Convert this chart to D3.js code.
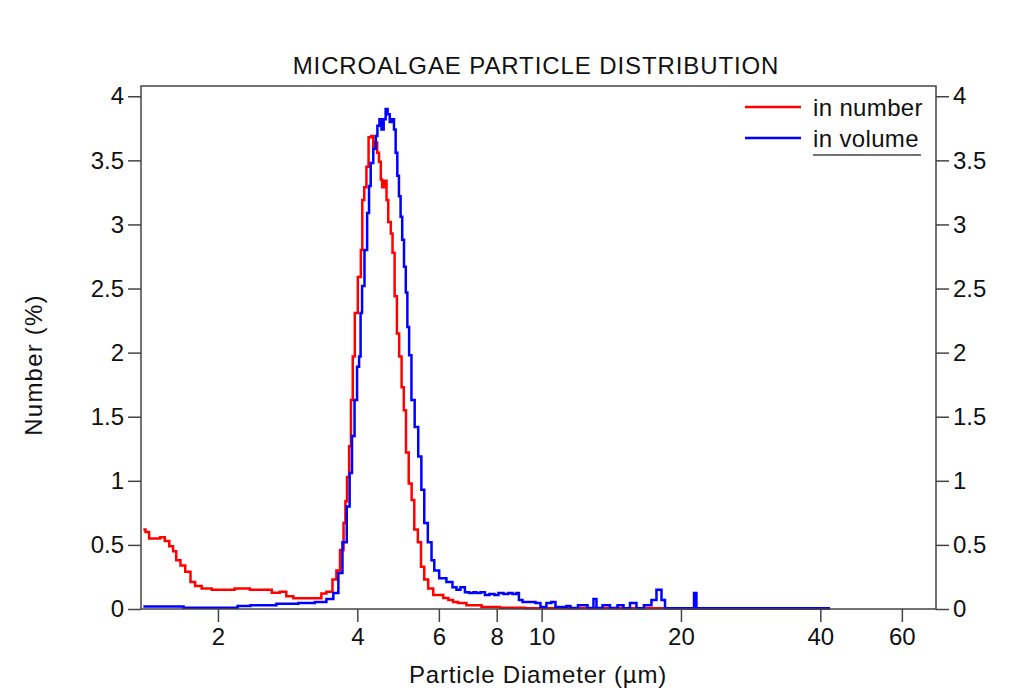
<!DOCTYPE html>
<html>
<head>
<meta charset="utf-8">
<script src="https://cdn.jsdelivr.net/npm/d3@7"></script>
<style>
  body { margin: 0; background: #fff; }
  text { font-family: "Liberation Sans", Arial, sans-serif; fill: #111; }
</style>
</head>
<body>
<svg id="chart" width="1024" height="690"></svg>
<script>
// particle size distribution
const numberDiam = [1.38, 1.41, 1.43, 1.48, 1.52, 1.55, 1.59, 1.61, 1.64, 1.68, 1.72, 1.77, 1.80, 1.89, 1.99, 2.09, 2.26, 2.43, 2.55, 2.68, 2.76, 2.86, 2.96, 3.32, 3.37, 3.49, 3.58, 3.63, 3.71, 3.76, 3.78, 3.82, 3.86, 3.89, 3.93, 3.97, 4.05, 4.09, 4.11, 4.17, 4.20, 4.26, 4.31, 4.35, 4.40, 4.43, 4.48, 4.51, 4.54, 4.62, 4.63, 4.70, 4.75, 4.78, 4.85, 4.89, 4.96, 5.01, 5.07, 5.12, 5.21, 5.27, 5.35, 5.46, 5.52, 5.64, 5.74, 5.93, 6.03, 6.24, 6.34, 6.54, 6.66, 7.11, 7.74, 8.54, 9.92, 41.96];
const numberPct = [0.62, 0.60, 0.55, 0.55, 0.56, 0.53, 0.49, 0.45, 0.38, 0.34, 0.29, 0.21, 0.18, 0.16, 0.15, 0.15, 0.16, 0.15, 0.15, 0.127, 0.135, 0.10, 0.084, 0.084, 0.12, 0.135, 0.23, 0.30, 0.46, 0.67, 0.84, 1.03, 1.27, 1.63, 1.97, 2.31, 2.59, 2.80, 3.19, 3.29, 3.45, 3.68, 3.69, 3.59, 3.64, 3.56, 3.49, 3.35, 3.29, 3.34, 3.19, 3.02, 2.93, 2.78, 2.44, 2.15, 1.97, 1.73, 1.55, 1.22, 0.98, 0.85, 0.62, 0.52, 0.33, 0.23, 0.16, 0.11, 0.11, 0.086, 0.07, 0.055, 0.047, 0.03, 0.016, 0.01, 0.006, 0.004];

const volumeDiam = [1.38, 1.68, 1.69, 2.20, 2.21, 2.50, 2.86, 3.11, 3.37, 3.49, 3.61, 3.67, 3.76, 3.83, 3.87, 3.92, 3.97, 4.02, 4.05, 4.08, 4.11, 4.18, 4.22, 4.26, 4.29, 4.37, 4.40, 4.44, 4.49, 4.53, 4.59, 4.62, 4.68, 4.72, 4.78, 4.82, 4.86, 4.90, 4.94, 4.98, 5.02, 5.07, 5.11, 5.15, 5.20, 5.27, 5.37, 5.46, 5.54, 5.62, 5.74, 5.83, 5.90, 6.12, 6.34, 6.50, 6.60, 6.76, 6.90, 7.07, 7.18, 7.29, 7.47, 7.62, 7.81, 8.01, 8.13, 8.42, 8.54, 8.76, 8.89, 8.98, 9.21, 9.58, 9.82, 10.07, 10.42, 10.58, 10.85, 11.23, 11.40, 11.69, 12.29, 12.85, 13.04, 13.24, 13.84, 14.26, 14.92, 15.14, 15.91, 16.15, 17.14, 17.40, 18.02, 18.29, 18.66, 21.25, 21.44, 21.76, 41.96];
const volumePct = [0.02, 0.02, 0.01, 0.01, 0.023, 0.03, 0.04, 0.047, 0.055, 0.078, 0.125, 0.28, 0.52, 0.80, 1.06, 1.35, 1.63, 1.89, 1.97, 2.31, 2.52, 2.80, 3.09, 3.30, 3.48, 3.59, 3.69, 3.77, 3.82, 3.74, 3.82, 3.90, 3.86, 3.80, 3.82, 3.74, 3.56, 3.38, 3.22, 3.06, 2.88, 2.67, 2.47, 2.20, 1.98, 1.63, 1.42, 1.19, 0.93, 0.67, 0.52, 0.38, 0.30, 0.24, 0.21, 0.17, 0.15, 0.17, 0.13, 0.125, 0.13, 0.125, 0.13, 0.11, 0.117, 0.11, 0.125, 0.117, 0.125, 0.117, 0.125, 0.07, 0.055, 0.055, 0.047, 0.016, 0.047, 0.055, 0.016, 0.016, 0.023, 0.008, 0.03, 0.008, 0.078, 0.008, 0.03, 0.008, 0.03, 0.005, 0.047, 0.005, 0.03, 0.07, 0.15, 0.07, 0.005, 0.005, 0.125, 0.005, 0.005];

const xTicks = [2, 4, 6, 8, 10, 20, 40, 60];
const yTicks = [0, 0.5, 1, 1.5, 2, 2.5, 3, 3.5, 4];

const seriesNames = ["in number", "in volume"];
const seriesColors = ["#ff0000", "#0000ff"];

const plotLeft = 141, plotRight = 936, plotTop = 86, plotBottom = 609;

const svg = d3.select("#chart");

const x = d3.scaleLog().domain([1.364, 71.1]).range([plotLeft, plotRight]);
const y = d3.scaleLinear().domain([0, 4.08]).range([plotBottom, plotTop]);

const numberData = numberDiam.map((d, i) => ({d: d, v: numberPct[i]}));
const volumeData = volumeDiam.map((d, i) => ({d: d, v: volumePct[i]}));

const line = d3.line()
    .x(p => x(p.d))
    .y(p => y(p.v))
    .curve(d3.curveStep);

// curves
const plot = svg.append("g");
plot.append("path")
    .datum(numberData)
    .attr("d", line)
    .attr("fill", "none")
    .attr("stroke", seriesColors[0])
    .attr("stroke-width", 2.5);
plot.append("path")
    .datum(volumeData)
    .attr("d", line)
    .attr("fill", "none")
    .attr("stroke", seriesColors[1])
    .attr("stroke-width", 2.5);

// frame
svg.append("rect")
    .attr("x", plotLeft).attr("y", plotTop)
    .attr("width", plotRight - plotLeft).attr("height", plotBottom - plotTop)
    .attr("fill", "none")
    .attr("stroke", "#444")
    .attr("stroke-width", 1.5);

// axes
const fmt = d3.format("~g");
const xAxis = svg.append("g")
    .attr("transform", `translate(0,${plotBottom})`)
    .call(d3.axisBottom(x).tickValues(xTicks).tickFormat(fmt).tickSize(13).tickPadding(6));
const yLeft = svg.append("g")
    .attr("transform", `translate(${plotLeft},0)`)
    .call(d3.axisLeft(y).tickValues(yTicks).tickFormat(fmt).tickSize(13).tickPadding(4));
const yRight = svg.append("g")
    .attr("transform", `translate(${plotRight},0)`)
    .call(d3.axisRight(y).tickValues(yTicks).tickFormat(fmt).tickSize(13).tickPadding(4));

[xAxis, yLeft, yRight].forEach(g => {
    g.select(".domain").remove();
    g.selectAll(".tick line").attr("stroke", "#444").attr("stroke-width", 1.5);
    g.selectAll(".tick text").attr("font-size", 24).attr("fill", "#111")
        .style("font-family", '"Liberation Sans", Arial, sans-serif');
});

// titles
svg.append("text")
    .attr("x", 536).attr("y", 74)
    .attr("text-anchor", "middle")
    .attr("font-size", 24)
    .attr("letter-spacing", 0.9)
    .text("MICROALGAE PARTICLE DISTRIBUTION");

svg.append("text")
    .attr("x", 538).attr("y", 683)
    .attr("text-anchor", "middle")
    .attr("font-size", 24)
    .attr("letter-spacing", 0.8)
    .text("Particle Diameter (µm)");

svg.append("text")
    .attr("transform", "translate(42,365) rotate(-90)")
    .attr("text-anchor", "middle")
    .attr("font-size", 24)
    .attr("letter-spacing", 1.2)
    .text("Number (%)");

// legend
const legend = svg.append("g");
seriesNames.forEach((name, i) => {
    const ly = 107 + i * 31;
    legend.append("line")
        .attr("x1", 745).attr("x2", 801)
        .attr("y1", ly).attr("y2", ly)
        .attr("stroke", seriesColors[i])
        .attr("stroke-width", 2.5);
    legend.append("text")
        .attr("x", 813).attr("y", ly + 9)
        .attr("font-size", 24)
        .attr("letter-spacing", 0.35)
        .text(name);
});
legend.append("line")
    .attr("x1", 813).attr("x2", 921)
    .attr("y1", 155).attr("y2", 155)
    .attr("stroke", "#444")
    .attr("stroke-width", 1.5);
</script>
</body>
</html>
